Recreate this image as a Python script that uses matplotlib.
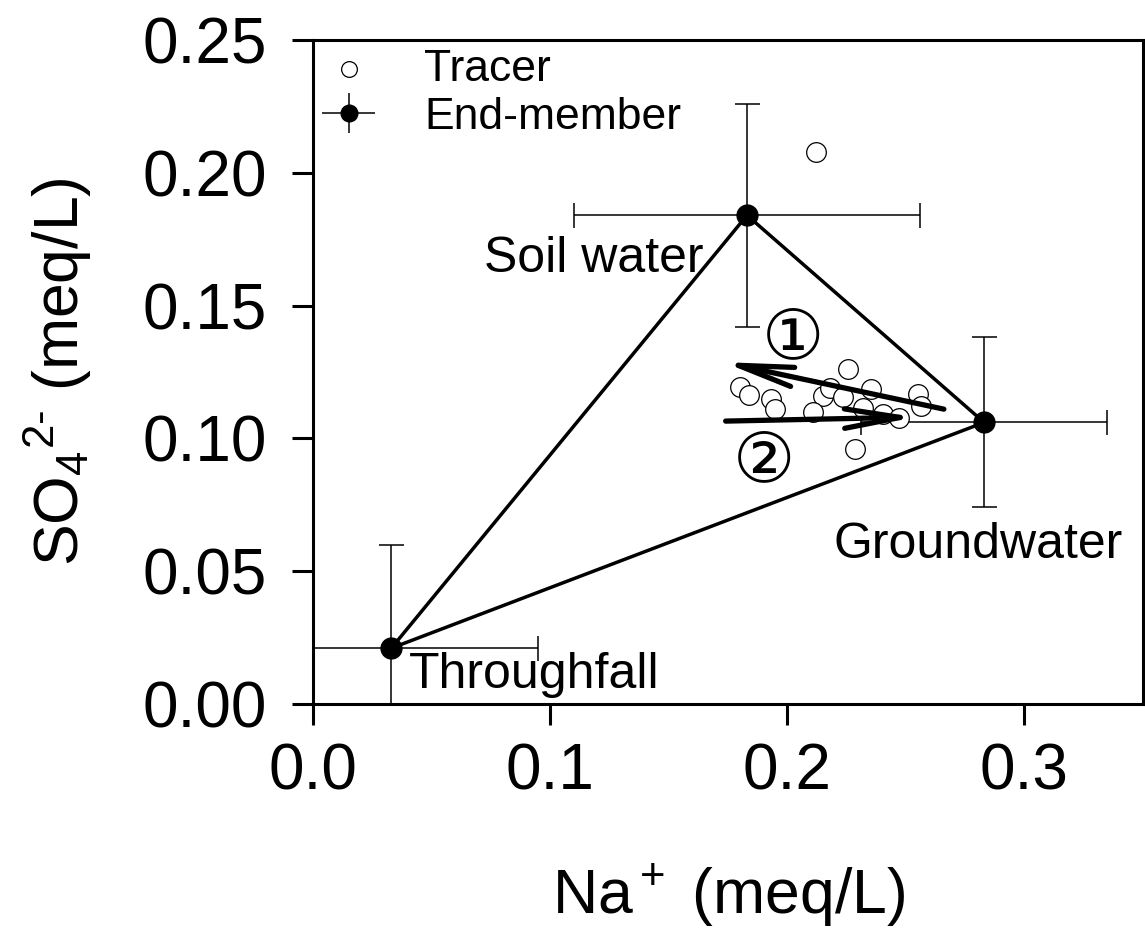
import matplotlib
matplotlib.use('Agg')
import matplotlib.pyplot as plt
from matplotlib.legend_handler import HandlerErrorbar
import numpy as np

plt.rcParams['font.family'] = ['Liberation Sans', 'DejaVu Sans']
plt.rcParams['mathtext.fontset'] = 'custom'
plt.rcParams['mathtext.rm'] = 'Liberation Sans'
plt.rcParams['mathtext.it'] = 'Liberation Sans:italic'

# end-members: throughfall, soil water, groundwater
em_names = ['Throughfall', 'Soil water', 'Groundwater']
em_na = [0.033, 0.183, 0.283]
em_so4 = [0.021, 0.184, 0.106]
em_na_err = [0.062, 0.073, 0.052]
em_so4_err = [0.039, 0.042, 0.032]

# tracer samples
tr_na = [0.180, 0.184, 0.193, 0.195, 0.2257, 0.2152, 0.218, 0.211, 0.2236,
         0.2354, 0.232, 0.2552, 0.2565, 0.2285, 0.212, 0.2405, 0.247]
tr_so4 = [0.1195, 0.1165, 0.1148, 0.111, 0.1262, 0.116, 0.119, 0.110, 0.1155,
          0.1185, 0.1115, 0.1167, 0.112, 0.096, 0.2078, 0.109, 0.1075]

# flow path arrows (start, end)
arr1 = [(0.266, 0.111), (0.173, 0.1287)]
arr2 = [(0.174, 0.1065), (0.254, 0.108)]

fig = plt.figure(figsize=(11.45, 9.36), dpi=100)
ax = fig.add_axes([0.2734, 0.2479, 0.7249, 0.7094])

# mixing triangle
tri_x = em_na + [em_na[0]]
tri_y = em_so4 + [em_so4[0]]
ax.plot(tri_x, tri_y, color='black', lw=2.5, zorder=2)

ax.errorbar(em_na, em_so4, xerr=em_na_err, yerr=em_so4_err, fmt='o',
            color='black', ms=15, elinewidth=1.1, capsize=9, capthick=1.1,
            zorder=3)
# legend entry for end-members, drawn without caps
eb = ax.errorbar([np.nan], [np.nan], xerr=[0.01], yerr=[0.01], fmt='o',
                 color='black', ms=15, elinewidth=1.1, capsize=0,
                 label='End-member')
tr = ax.scatter(tr_na, tr_so4, s=200, facecolors='white', edgecolors='black',
                linewidths=0.9, label='Tracer', zorder=4)

for (x0, y0), (x1, y1) in [arr1, arr2]:
    ax.annotate('', xy=(x1, y1), xytext=(x0, y0),
                arrowprops=dict(arrowstyle='->,head_length=2.0,head_width=0.35',
                                mutation_scale=20, lw=3.8, color='black',
                                shrinkA=0, shrinkB=0), zorder=5)

ax.text(0.2025, 0.1369, '\u2460', fontsize=50, ha='center', va='center')
ax.text(0.190, 0.0905, '\u2461', fontsize=50, ha='center', va='center')

ax.text(0.1646, 0.1628, em_names[1], fontsize=36, ha='right', va='baseline')
ax.text(0.2194, 0.0548, em_names[2], fontsize=36, ha='left', va='baseline')
ax.text(0.0404, 0.006, em_names[0], fontsize=36, ha='left', va='baseline')

ax.set_xlim(0, 0.35)
ax.set_ylim(0, 0.25)
ax.set_xticks([0.0, 0.1, 0.2, 0.3])
ax.set_xticklabels(['0.0', '0.1', '0.2', '0.3'])
ax.set_yticks([0.0, 0.05, 0.10, 0.15, 0.20, 0.25])
ax.set_yticklabels(['0.00', '0.05', '0.10', '0.15', '0.20', '0.25'])
ax.tick_params(direction='out', length=15, width=2.2, labelsize=46)
ax.tick_params(axis='x', pad=13)
ax.tick_params(axis='y', pad=18)
for s in ax.spines.values():
    s.set_linewidth(2.2)

ax.set_xlabel('Na$^+$ (meq/L)', fontsize=45, labelpad=43)
ax.set_ylabel(r'SO$_4$$^{2\text{-}}$ (meq/L)', fontsize=45, labelpad=35)

ax.legend(handles=[tr, eb], loc='upper left', frameon=False, fontsize=32,
          handlelength=1.2, handletextpad=1.1, borderaxespad=0.1,
          borderpad=0.1, labelspacing=0.15, markerscale=0.8,
          handler_map={type(eb): HandlerErrorbar(xerr_size=0.6, yerr_size=0.45)})

fig.savefig('out.png', dpi=100)
